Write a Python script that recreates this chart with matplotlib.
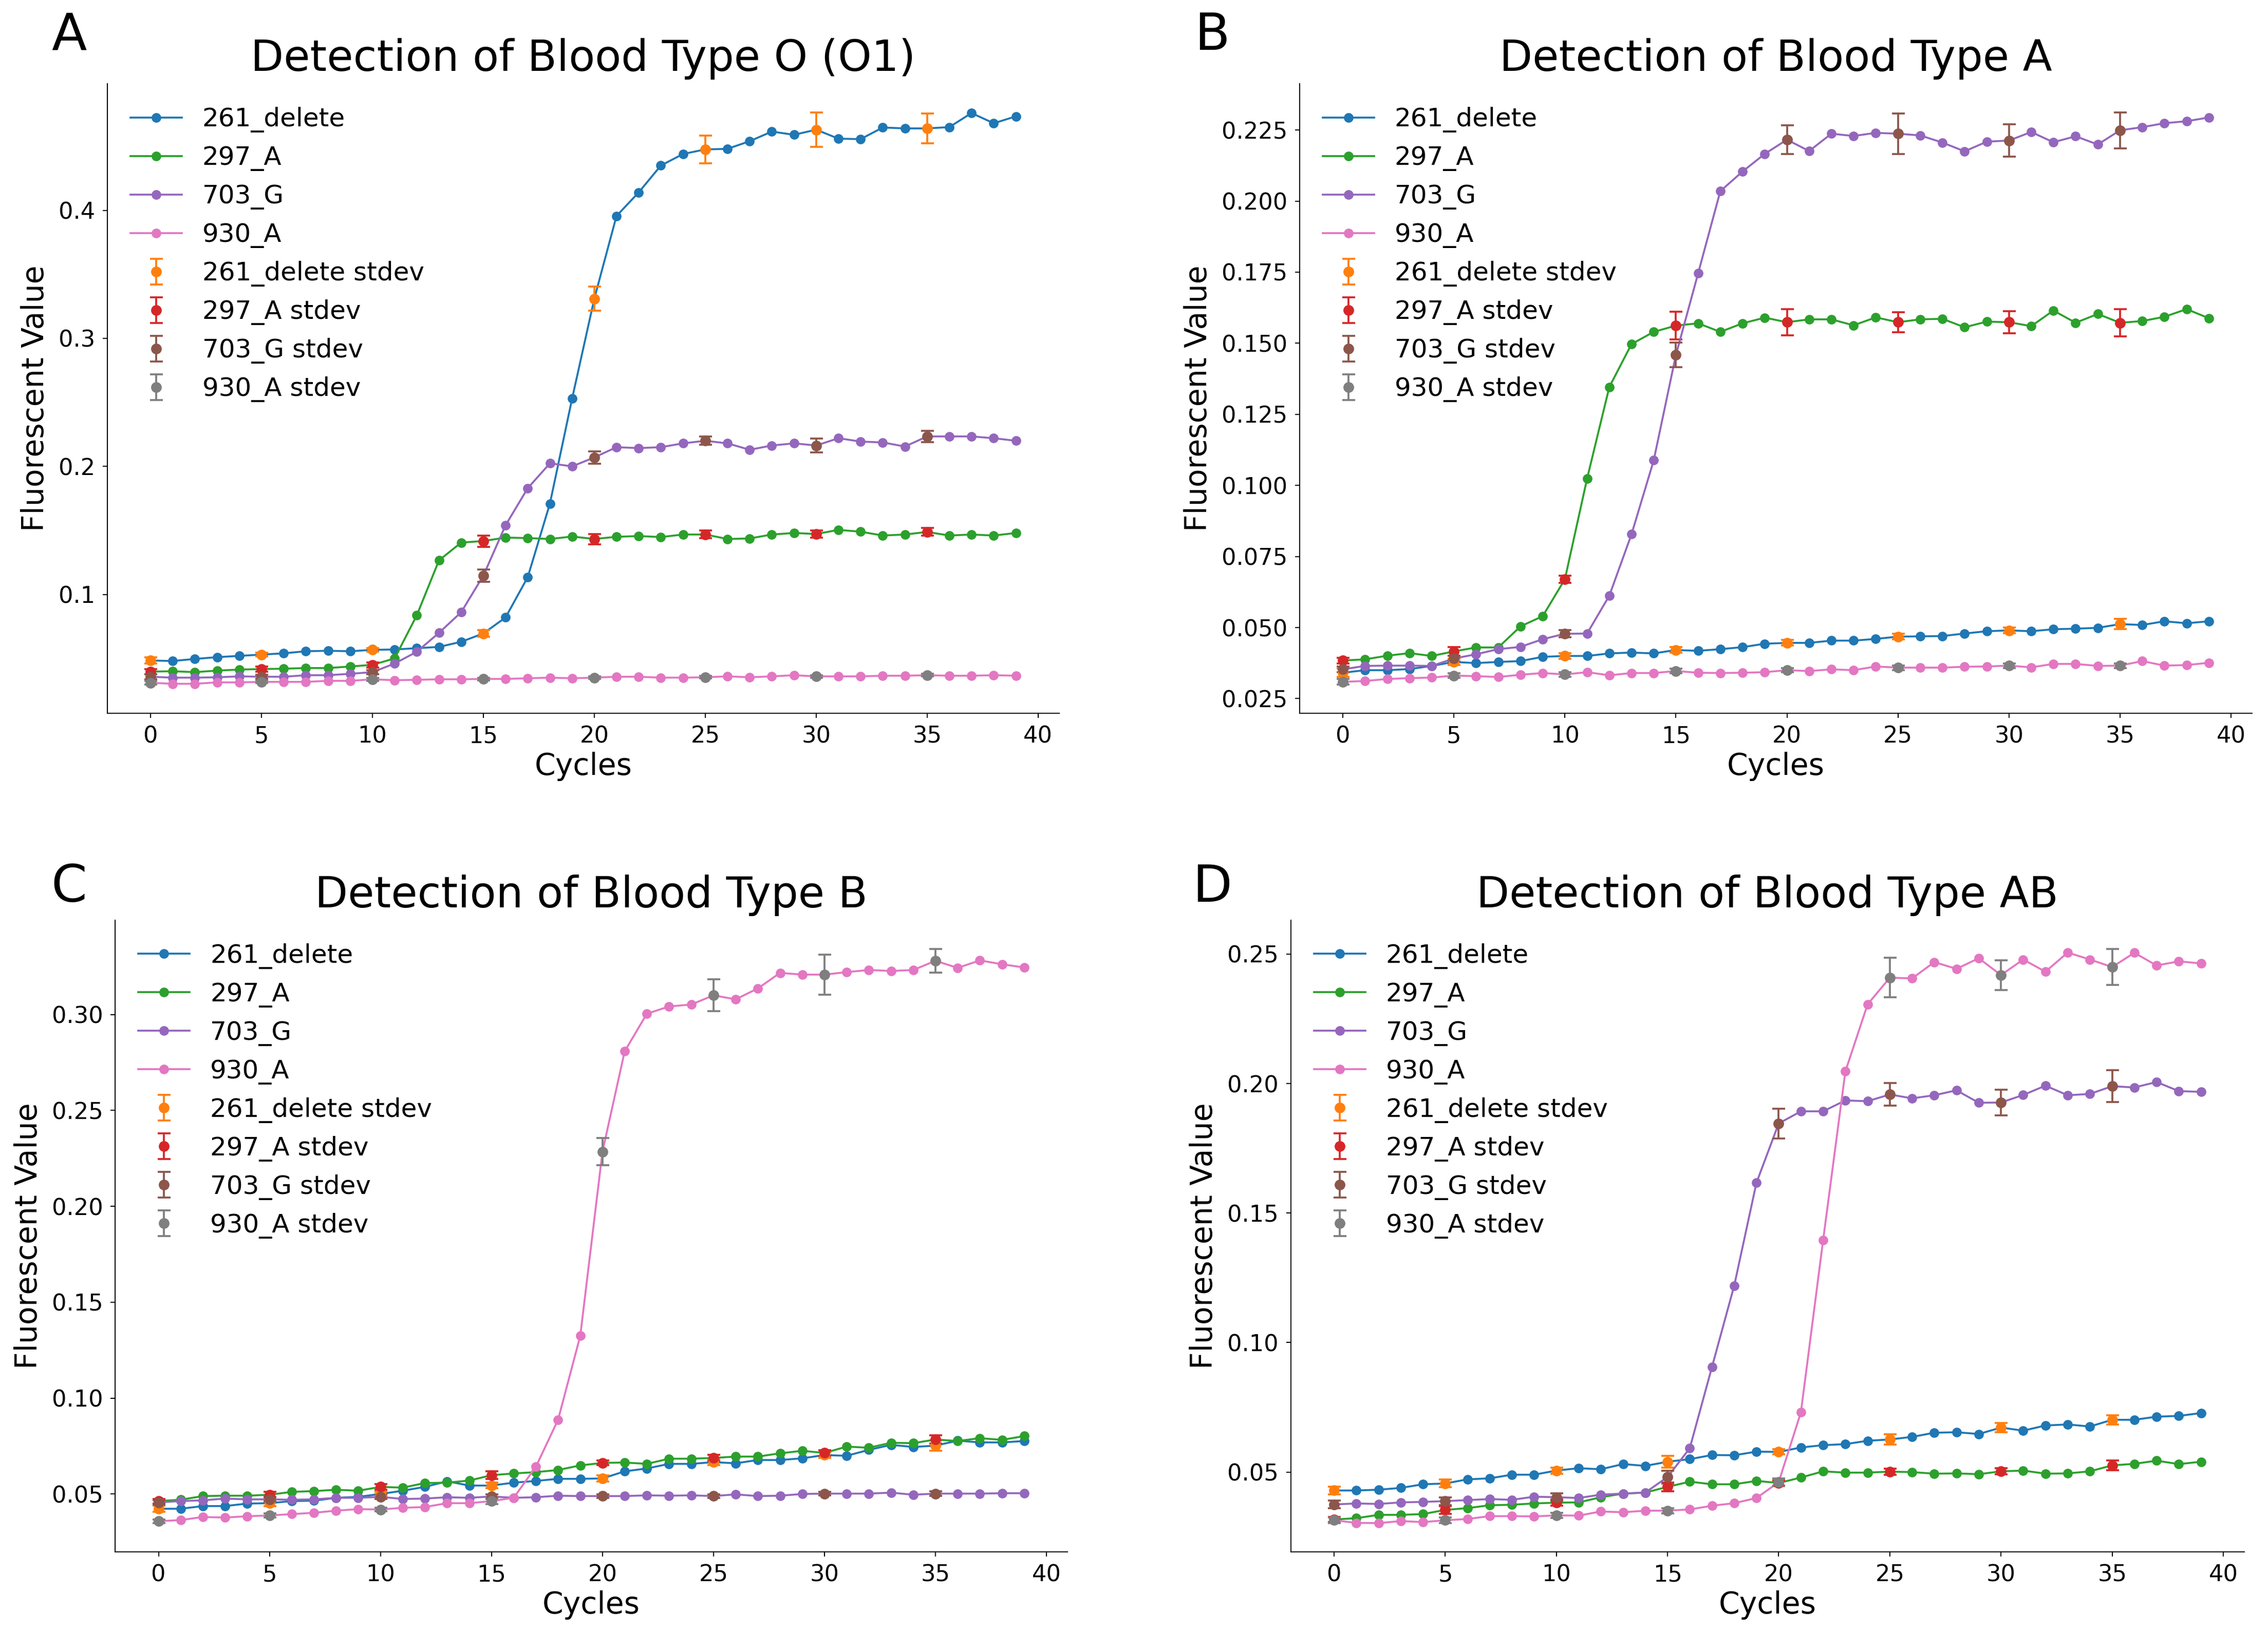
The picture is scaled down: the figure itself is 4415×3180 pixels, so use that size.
import matplotlib
matplotlib.use("Agg")
import matplotlib.pyplot as plt

cycles = list(range(40))
stdev_cycles = [0, 5, 10, 15, 20, 25, 30, 35]
names = ["261_delete", "297_A", "703_G", "930_A"]

# Blood type O (O1)
o_261 = [0.0484, 0.048, 0.0496, 0.051, 0.052, 0.053, 0.054, 0.0556, 0.056, 0.0556,
         0.0567, 0.057, 0.058, 0.059, 0.063, 0.0695, 0.082, 0.1135, 0.171, 0.253,
         0.331, 0.3956, 0.414, 0.435, 0.444, 0.4476, 0.448, 0.454, 0.4615, 0.459,
         0.463, 0.456, 0.4556, 0.4647, 0.464, 0.464, 0.465, 0.476, 0.468, 0.4734]
o_297 = [0.0397, 0.040, 0.0393, 0.0405, 0.0413, 0.0417, 0.042, 0.0425, 0.0425, 0.0437,
         0.045, 0.050, 0.0837, 0.1266, 0.1405, 0.1417, 0.1444, 0.144, 0.1433, 0.1452,
         0.1433, 0.145, 0.1456, 0.1448, 0.1468, 0.1468, 0.1433, 0.1437, 0.1468, 0.148,
         0.1472, 0.1504, 0.149, 0.146, 0.1468, 0.1488, 0.146, 0.1468, 0.146, 0.148]
o_703 = [0.0357, 0.035, 0.035, 0.0353, 0.036, 0.0357, 0.0357, 0.0369, 0.0369, 0.038,
         0.0393, 0.046, 0.0552, 0.070, 0.0861, 0.1147, 0.154, 0.183, 0.2024, 0.200,
         0.207, 0.215, 0.2143, 0.215, 0.218, 0.220, 0.218, 0.213, 0.2163, 0.218,
         0.2163, 0.222, 0.2194, 0.2187, 0.2155, 0.2234, 0.2234, 0.2234, 0.222, 0.220]
o_930 = [0.031, 0.0302, 0.0302, 0.0313, 0.0313, 0.0317, 0.0317, 0.0317, 0.0325, 0.0325,
         0.0337, 0.033, 0.0333, 0.0337, 0.0337, 0.034, 0.034, 0.0345, 0.035, 0.0345,
         0.035, 0.0357, 0.0357, 0.035, 0.035, 0.0353, 0.036, 0.0353, 0.036, 0.0369,
         0.036, 0.036, 0.036, 0.0365, 0.0365, 0.0369, 0.0365, 0.0365, 0.0369, 0.0365]
o_261_sd = [0.0025, 0.0015, 0.0015, 0.0025, 0.0093, 0.0107, 0.0135, 0.0115]
o_297_sd = [0.002, 0.002, 0.002, 0.0044, 0.004, 0.003, 0.0028, 0.003]
o_703_sd = [0.002, 0.0015, 0.0015, 0.0048, 0.0048, 0.0032, 0.0055, 0.0044]
o_930_sd = [0.0015, 0.001, 0.0012, 0.001, 0.001, 0.001, 0.001, 0.001]

# Blood type A
a_261 = [0.0341, 0.035, 0.035, 0.0354, 0.0365, 0.0379, 0.0375, 0.0379, 0.0382, 0.0397,
         0.040, 0.040, 0.0409, 0.0412, 0.0409, 0.0421, 0.0418, 0.0424, 0.0431, 0.0443,
         0.0446, 0.0446, 0.0454, 0.0454, 0.046, 0.0468, 0.0469, 0.047, 0.0479, 0.0487,
         0.049, 0.0487, 0.0494, 0.0496, 0.0499, 0.0512, 0.0509, 0.0522, 0.0515, 0.0522]
a_297 = [0.0384, 0.0388, 0.0401, 0.041, 0.040, 0.0416, 0.043, 0.043, 0.0504, 0.054,
         0.067, 0.1024, 0.1346, 0.1497, 0.154, 0.1562, 0.157, 0.154, 0.157, 0.159,
         0.1574, 0.1584, 0.1584, 0.1563, 0.1591, 0.1574, 0.1584, 0.1586, 0.1556, 0.1576,
         0.1574, 0.156, 0.1615, 0.1572, 0.1603, 0.1572, 0.1578, 0.1593, 0.162, 0.1588]
a_703 = [0.0353, 0.0365, 0.0366, 0.0366, 0.0365, 0.0391, 0.0406, 0.0424, 0.0432, 0.0459,
         0.0478, 0.0479, 0.0612, 0.0828, 0.1088, 0.1459, 0.1746, 0.2035, 0.2104, 0.2166,
         0.2216, 0.2176, 0.2237, 0.2229, 0.224, 0.2237, 0.2231, 0.2206, 0.2175, 0.2209,
         0.2213, 0.2243, 0.2207, 0.2228, 0.2199, 0.2249, 0.226, 0.2274, 0.2281, 0.2294]
a_930 = [0.0309, 0.0312, 0.0319, 0.0322, 0.0324, 0.0331, 0.0329, 0.0326, 0.0334, 0.034,
         0.0335, 0.0343, 0.0332, 0.034, 0.034, 0.0347, 0.0341, 0.034, 0.0341, 0.0343,
         0.035, 0.0347, 0.0353, 0.035, 0.0363, 0.0359, 0.0359, 0.0359, 0.0362, 0.0363,
         0.0366, 0.036, 0.0372, 0.0372, 0.0365, 0.0366, 0.0382, 0.0366, 0.0368, 0.0376]
a_261_sd = [0.0015, 0.001, 0.001, 0.001, 0.001, 0.001, 0.001, 0.0018]
a_297_sd = [0.001, 0.0015, 0.0012, 0.0049, 0.0046, 0.0035, 0.0039, 0.0048]
a_703_sd = [0.001, 0.001, 0.0013, 0.0044, 0.0051, 0.0072, 0.0057, 0.0063]
a_930_sd = [0.001, 0.0008, 0.0008, 0.0008, 0.0008, 0.0008, 0.0008, 0.0008]

# Blood type B
b_261 = [0.0423, 0.0423, 0.0437, 0.0437, 0.045, 0.0452, 0.0463, 0.0465, 0.048, 0.0485,
         0.050, 0.0517, 0.0537, 0.0566, 0.0544, 0.0544, 0.0559, 0.0568, 0.0579, 0.0579,
         0.0581, 0.0618, 0.0633, 0.0657, 0.0657, 0.0666, 0.066, 0.0677, 0.0677, 0.0686,
         0.0703, 0.0699, 0.073, 0.0756, 0.0745, 0.0752, 0.0778, 0.0769, 0.0769, 0.0776]
b_297 = [0.0463, 0.047, 0.0489, 0.0491, 0.0491, 0.0496, 0.0511, 0.0515, 0.0522, 0.0517,
         0.0537, 0.0533, 0.0557, 0.0559, 0.057, 0.0598, 0.0607, 0.0614, 0.0625, 0.0649,
         0.0662, 0.0664, 0.0657, 0.0684, 0.0684, 0.0688, 0.0695, 0.0695, 0.0712, 0.0725,
         0.0714, 0.0747, 0.0741, 0.0767, 0.0765, 0.0784, 0.0776, 0.0791, 0.0782, 0.0802]
b_703 = [0.0456, 0.0463, 0.0467, 0.0476, 0.0472, 0.0472, 0.047, 0.0472, 0.048, 0.048,
         0.0485, 0.0474, 0.0476, 0.0483, 0.048, 0.0487, 0.048, 0.0483, 0.0491, 0.0489,
         0.0489, 0.0489, 0.0493, 0.0491, 0.0493, 0.0489, 0.0498, 0.0489, 0.0491, 0.050,
         0.0502, 0.0502, 0.0502, 0.0507, 0.0496, 0.0502, 0.0502, 0.0502, 0.0504, 0.0504]
b_930 = [0.0358, 0.0364, 0.038, 0.0377, 0.0384, 0.0388, 0.0395, 0.0402, 0.0413, 0.0421,
         0.0419, 0.0428, 0.0432, 0.0452, 0.0452, 0.0463, 0.048, 0.0642, 0.0887, 0.1325,
         0.2285, 0.2808, 0.3004, 0.3042, 0.3052, 0.310, 0.3079, 0.3136, 0.3217, 0.3208,
         0.3208, 0.3221, 0.3232, 0.3227, 0.3232, 0.328, 0.3243, 0.3282, 0.3262, 0.3245]
b_261_sd = [0.0015, 0.0015, 0.0012, 0.0015, 0.0015, 0.0015, 0.0015, 0.0026]
b_297_sd = [0.0012, 0.0015, 0.0015, 0.002, 0.0012, 0.0015, 0.0015, 0.0022]
b_703_sd = [0.0012, 0.0012, 0.0012, 0.0012, 0.001, 0.001, 0.001, 0.0012]
b_930_sd = [0.001, 0.001, 0.001, 0.0015, 0.0071, 0.0083, 0.0104, 0.0062]

# Blood type AB
ab_261 = [0.0429, 0.0429, 0.0432, 0.0439, 0.0453, 0.0456, 0.0472, 0.0476, 0.049, 0.049,
          0.0506, 0.0515, 0.0511, 0.0531, 0.0524, 0.054, 0.055, 0.0566, 0.0565, 0.0579,
          0.0578, 0.0595, 0.0604, 0.0608, 0.0621, 0.0626, 0.0636, 0.0652, 0.0654, 0.0647,
          0.0672, 0.066, 0.068, 0.0684, 0.0676, 0.0702, 0.0702, 0.0714, 0.0717, 0.0728]
ab_297 = [0.0317, 0.0322, 0.0335, 0.0335, 0.0338, 0.0354, 0.0361, 0.0372, 0.0374, 0.0379,
          0.0382, 0.0383, 0.0403, 0.0417, 0.0421, 0.0443, 0.0463, 0.0453, 0.0453, 0.0466,
          0.0458, 0.0479, 0.0503, 0.0498, 0.0498, 0.0502, 0.050, 0.0494, 0.0495, 0.0492,
          0.0503, 0.0506, 0.0494, 0.0495, 0.0503, 0.0526, 0.0532, 0.0544, 0.0531, 0.054]
ab_703 = [0.0375, 0.0379, 0.0377, 0.0383, 0.0385, 0.0388, 0.0392, 0.0396, 0.0393, 0.0405,
          0.0403, 0.040, 0.0413, 0.0417, 0.0421, 0.0481, 0.0592, 0.0906, 0.122, 0.1617,
          0.1846, 0.1893, 0.1893, 0.1935, 0.1932, 0.1958, 0.1943, 0.1955, 0.1974, 0.1926,
          0.1927, 0.1956, 0.1992, 0.1955, 0.196, 0.199, 0.1985, 0.2006, 0.1971, 0.1968]
ab_930 = [0.0314, 0.0304, 0.0303, 0.0311, 0.0307, 0.0314, 0.0319, 0.033, 0.033, 0.0329,
          0.0333, 0.0332, 0.0348, 0.0345, 0.0351, 0.0351, 0.0356, 0.037, 0.038, 0.040,
          0.0461, 0.0731, 0.1396, 0.2047, 0.2306, 0.2409, 0.2406, 0.2469, 0.2443, 0.2484,
          0.2419, 0.2479, 0.2432, 0.2506, 0.2479, 0.245, 0.2505, 0.2456, 0.2472, 0.2464]
ab_261_sd = [0.0015, 0.0015, 0.0012, 0.0023, 0.001, 0.002, 0.0018, 0.0018]
ab_297_sd = [0.001, 0.0015, 0.0012, 0.0016, 0.001, 0.0012, 0.0012, 0.0018]
ab_703_sd = [0.0015, 0.0015, 0.0015, 0.0025, 0.0057, 0.0044, 0.005, 0.0061]
ab_930_sd = [0.001, 0.001, 0.001, 0.001, 0.0015, 0.0076, 0.0058, 0.007]

titles = ["Detection of Blood Type O (O1)", "Detection of Blood Type A",
          "Detection of Blood Type B", "Detection of Blood Type AB"]
letters = ["A", "B", "C", "D"]


def draw_panel(ax, series, stdevs, title):
    for name, values, sd in zip(names, series, stdevs):
        ax.plot(cycles, values, marker="o", markersize=3.5, linewidth=0.9, label=name)
        ax.errorbar(stdev_cycles, [values[c] for c in stdev_cycles], yerr=sd, fmt="o",
                    markersize=4, capsize=3, elinewidth=0.9, capthick=0.9,
                    label=name + " stdev")
    ax.set_title(title, fontsize=20)
    ax.set_xlabel("Cycles", fontsize=14, labelpad=2)
    ax.set_ylabel("Fluorescent Value", fontsize=14)
    ax.tick_params(labelsize=10.75, length=2.2, width=0.5)
    ax.set_xticks([0, 5, 10, 15, 20, 25, 30, 35, 40])
    ax.spines["top"].set_visible(False)
    ax.spines["right"].set_visible(False)
    ax.spines["left"].set_linewidth(0.5)
    ax.spines["bottom"].set_linewidth(0.5)
    ax.legend(loc="upper left", frameon=False, fontsize=12)


def main():
    fig = plt.figure(figsize=(4415 / 300, 3180 / 300), dpi=300)
    boxes = [
        [0.0473, 0.5632, 0.4197, 0.3855],
        [0.5730, 0.5632, 0.4200, 0.3855],
        [0.0508, 0.0497, 0.4199, 0.3868],
        [0.5691, 0.0497, 0.4205, 0.3868],
    ]
    data = [
        ([o_261, o_297, o_703, o_930], [o_261_sd, o_297_sd, o_703_sd, o_930_sd]),
        ([a_261, a_297, a_703, a_930], [a_261_sd, a_297_sd, a_703_sd, a_930_sd]),
        ([b_261, b_297, b_703, b_930], [b_261_sd, b_297_sd, b_703_sd, b_930_sd]),
        ([ab_261, ab_297, ab_703, ab_930], [ab_261_sd, ab_297_sd, ab_703_sd, ab_930_sd]),
    ]
    letter_pos = [(0.0305, 0.978), (0.5345, 0.978), (0.0305, 0.4565), (0.5345, 0.4565)]

    for box, (series, stdevs), title, letter, pos in zip(boxes, data, titles, letters, letter_pos):
        ax = fig.add_axes(box)
        draw_panel(ax, series, stdevs, title)
        fig.text(pos[0], pos[1], letter, fontsize=24, ha="center", va="center")

    fig.savefig("out.png", dpi=300)
    plt.close(fig)


if __name__ == "__main__":
    main()
